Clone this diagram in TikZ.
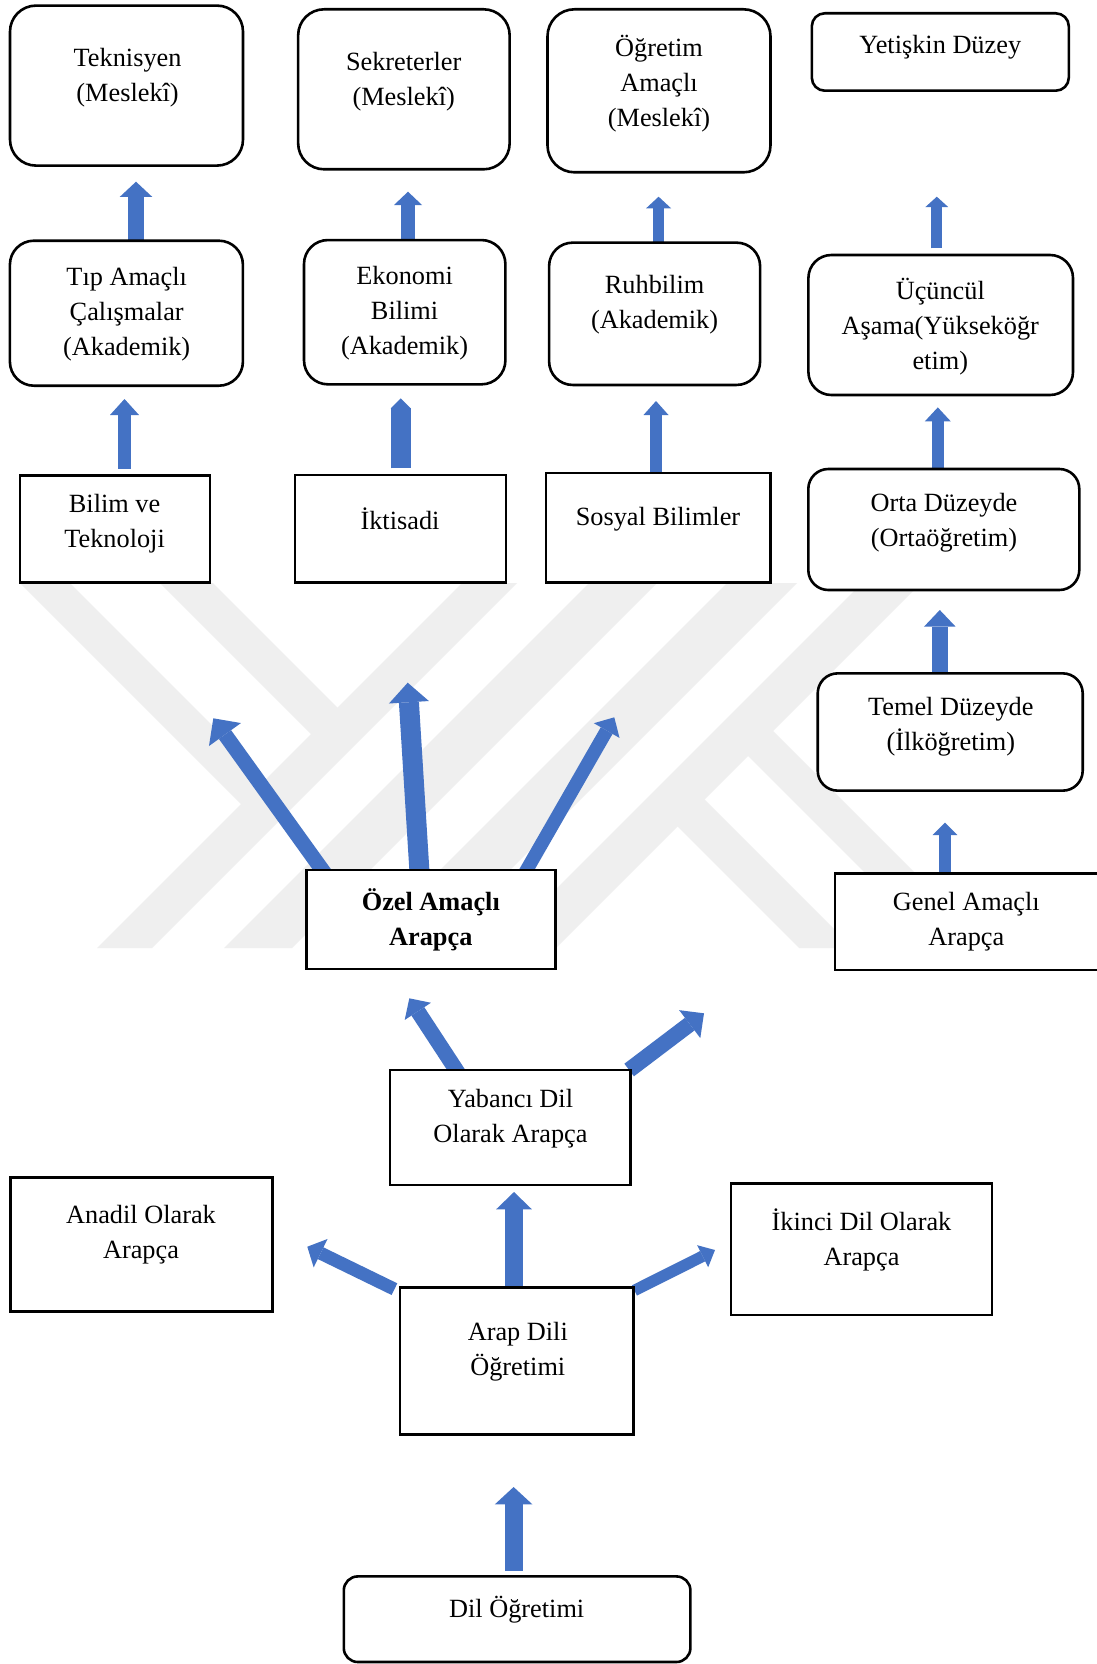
\documentclass[tikz,border=0pt]{standalone}
\usepackage{fontspec}
\setmainfont{Liberation Serif}
\usetikzlibrary{arrows.meta,calc}
\definecolor{arrowblue}{RGB}{68,114,196}
\definecolor{markgray}{RGB}{239,239,239}
\pgfdeclarelayer{back}
\pgfsetlayers{back,main}
\begin{document}
\begin{tikzpicture}[x=1pt,y=-1pt,
  sqbox/.style={draw=black, line width=2.6pt, fill=white, inner sep=0pt, outer sep=0pt},
  rbox/.style={sqbox, rounded corners=#1},
  lbl/.style={align=center, font=\fontsize{26.3}{35}\selectfont, inner sep=0pt, yshift=-2.5pt},
  blk/.style n args={3}{draw=arrowblue, line width=#1, -{Triangle[width=#2,length=#3,line width=0pt]}}
]
\useasboundingbox (0,0) rectangle (1096,1664);

% page and the faint emblem behind the chart
\begin{pgfonlayer}{back}
\fill[white] (0,0) rectangle (1096,1664);
\begin{scope}
\clip (0,583) rectangle (1096,948);
\fill[markgray] (462,583) -- (517,583) -- (152,948) -- (97,948) -- cycle;
\fill[markgray] (589,583) -- (657,583) -- (292,948) -- (224,948) -- cycle;
\fill[markgray] (727,583) -- (797,583) -- (432,948) -- (362,948) -- cycle;
\fill[markgray] (862,583) -- (921,583) -- (556,948) -- (497,948) -- cycle;
\fill[markgray] (20,583) -- (70,583) -- (273.5,786.5) -- (248.5,811.5) -- cycle;
\fill[markgray] (160,583) -- (213,583) -- (345,715) -- (318.5,741.5) -- cycle;
\fill[markgray] (673,822) -- (700,795) -- (853,948) -- (799,948) -- cycle;
\fill[markgray] (743.5,751.5) -- (768.5,726.5) -- (990,948) -- (940,948) -- cycle;
\end{scope}
\end{pgfonlayer}

% boxes
\node[rbox=26pt, minimum width=233pt, minimum height=160pt] (tekn) at (126.5,85.6) {};
\node[rbox=26pt, minimum width=211.5pt, minimum height=160pt] (sekr) at (403.9,89.3) {};
\node[rbox=27pt, minimum width=223pt, minimum height=163pt] (ogrt) at (659,90.8) {};
\node[rbox=13pt, minimum width=257pt, minimum height=77.4pt] (yets) at (940.3,52) {};
\node[rbox=24pt, minimum width=233pt, minimum height=145pt] (tipa) at (126.4,313.2) {};
\node[rbox=24pt, minimum width=201.4pt, minimum height=144.3pt] (ekon) at (404.7,312.2) {};
\node[rbox=23.5pt, minimum width=211pt, minimum height=142.3pt] (ruhb) at (654.6,313.8) {};
\node[rbox=23pt, minimum width=264.6pt, minimum height=140pt] (ucun) at (940.7,325) {};
\node[sqbox, minimum width=190pt, minimum height=107pt] (bilm) at (115,529) {};
\node[sqbox, minimum width=211pt, minimum height=107.3pt] (ikti) at (400.5,528.7) {};
\node[sqbox, minimum width=224.7pt, minimum height=109.4pt] (sosy) at (658.3,527.6) {};
\node[rbox=20pt, minimum width=271pt, minimum height=121pt] (orta) at (943.8,529.5) {};
\node[rbox=20pt, minimum width=265pt, minimum height=117.3pt] (teml) at (950.2,732) {};
\node[sqbox, minimum width=270pt, minimum height=96.7pt] (genl) at (970,921.7) {};
\node[sqbox, minimum width=248.5pt, minimum height=99pt] (ozel) at (431,919.5) {};
\node[sqbox, minimum width=240.7pt, minimum height=115pt] (yabc) at (510.3,1127.5) {};
\node[sqbox, minimum width=262pt, minimum height=134pt] (anad) at (141.5,1244.6) {};
\node[sqbox, minimum width=261pt, minimum height=131.3pt] (ikin) at (861.5,1249.4) {};
\node[sqbox, minimum width=233.5pt, minimum height=147.5pt] (arap) at (516.7,1361) {};
\node[rbox=14pt, minimum width=346.6pt, minimum height=85.6pt] (dilo) at (517.1,1619.2) {};

% labels
\node[lbl] (tekn-l) at (127.6,75) {Teknisyen\\(Meslekî)};
\node[lbl] (sekr-l) at (403.7,79.2) {Sekreterler\\(Meslekî)};
\node[lbl] (ogrt-l) at (659,81) {Öğretim\\Amaçlı\\(Meslekî)};
\node[lbl] (yets-l) at (940.3,45) {Yetişkin Düzey};
\node[lbl] (tipa-l) at (126.7,311.7) {Tıp Amaçlı\\Çalışmalar\\(Akademik)};
\node[lbl] (ekon-l) at (404.6,310.6) {Ekonomi\\Bilimi\\(Akademik)};
\node[lbl] (ruhb-l) at (654.6,302.5) {Ruhbilim\\(Akademik)};
\node[lbl] (ucun-l) at (940.3,324.4) {Üçüncül\\Aşama(Yükseköğr\\etim)};
\node[lbl] (bilm-l) at (114.6,521) {Bilim ve\\Teknoloji};
\node[lbl] (ikti-l) at (400,516.7) {İktisadi};
\node[lbl] (sosy-l) at (658,516.7) {Sosyal Bilimler};
\node[lbl] (orta-l) at (944,520.4) {Orta Düzeyde\\(Ortaöğretim)};
\node[lbl] (teml-l) at (950.8,724.2) {Temel Düzeyde\\(İlköğretim)};
\node[lbl] (genl-l) at (966.3,919.2) {Genel Amaçlı\\Arapça};
\node[lbl, font=\fontsize{26.3}{35}\selectfont\bfseries] (ozel-l) at (430.8,917.5) {Özel Amaçlı\\Arapça};
\node[lbl] (yabc-l) at (510.5,1116.2) {Yabancı Dil\\Olarak Arapça};
\node[lbl] (anad-l) at (141,1232.4) {Anadil Olarak\\Arapça};
\node[lbl] (ikin-l) at (861.5,1237.7) {İkinci Dil Olarak\\Arapça};
\node[lbl] (arap-l) at (517.8,1349.6) {Arap Dili\\Öğretimi};
\node[lbl] (dilo-l) at (516.7,1607.4) {Dil Öğretimi};

% arrow tips
\coordinate (tA) at (136,181.7);
\coordinate (tB) at (408,191.7);
\coordinate (tC) at (658.6,196.7);
\coordinate (tD) at (936.8,196.7);
\coordinate (tE) at (124.5,399);
\coordinate (tF) at (400.7,398.3);
\coordinate (tG) at (656,401);
\coordinate (tH) at (937.8,407.4);
\coordinate (tI) at (939.8,610);
\coordinate (tJ) at (945,822.7);
\coordinate (tK) at (213.3,718.3);
\coordinate (tL) at (407.7,682.7);
\coordinate (tM) at (614.3,717.3);
\coordinate (tN) at (409.3,998.3);
\coordinate (tO) at (704,1013.3);
\coordinate (tP) at (307.3,1246.7);
\coordinate (tQ) at (514,1192);
\coordinate (tR) at (715,1250);
\coordinate (tS) at (513.6,1487);

% block arrows, kept under the boxes
\begin{pgfonlayer}{back}
\draw[blk={16pt}{32.7pt}{15.3pt}] ($(tipa.north -| tA)+(0,4)$) -- (tA);
\draw[blk={14pt}{28pt}{13.3pt}] ($(ekon.north -| tB)+(0,2)$) -- (tB);
\draw[blk={11.5pt}{25pt}{11.6pt}] ($(ruhb.north -| tC)+(0,1)$) -- (tC);
\draw[blk={11pt}{22.7pt}{10.3pt}] ($(ucun.north -| tD)+(0,-6.7)$) -- (tD);
\draw[blk={13.8pt}{29pt}{16pt}] ($(bilm.north -| tE)+(0,-6.8)$) -- (tE);
\draw[blk={20pt}{20pt}{10pt}] ($(ikti.north -| tF)+(0,-6.6)$) -- (tF);
\draw[blk={11.6pt}{25pt}{14pt}] ($(sosy.north -| tG)+(0,-1)$) -- (tG);
\draw[blk={12.5pt}{26pt}{14pt}] ($(orta.north -| tH)+(0,4)$) -- (tH);
\draw[blk={15.7pt}{31.7pt}{16.7pt}] ($(teml.north -| tI)+(0,4)$) -- (tI);
\draw[blk={11.4pt}{24.6pt}{12.3pt}] ($(genl.north -| tJ)+(0,4)$) -- (tJ);
\draw[blk={15pt}{39.4pt}{20pt}] ($(ozel.north west)+(19,4.8)$) -- (tK);
\draw[blk={20pt}{40pt}{19.6pt}] ($(ozel.north)+(-11.1,8.7)$) -- (tL);
\draw[blk={13.5pt}{29.6pt}{15.3pt}] ($(ozel.north east)+(-32.2,6.2)$) -- (tM);
\draw[blk={15.3pt}{31.4pt}{15.6pt}] ($(yabc.north west)+(70.2,6)$) -- (tN);
\draw[blk={15.8pt}{35pt}{17.9pt}] ($(yabc.north east)+(-1.5,0)$) -- (tO);
\draw[blk={13pt}{31.6pt}{14.8pt}] ($(arap.north west)+(-5.5,1.9)$) -- (tP);
\draw[blk={17.4pt}{35.7pt}{17.3pt}] ($(arap.north -| tQ)+(0,4)$) -- (tQ);
\draw[blk={11.5pt}{24.6pt}{13.8pt}] ($(arap.north east)+(1,3.2)$) -- (tR);
\draw[blk={18.2pt}{37.7pt}{17.4pt}] ($(dilo.north -| tS)+(0,-5.4)$) -- (tS);
\end{pgfonlayer}
\end{tikzpicture}
\end{document}
